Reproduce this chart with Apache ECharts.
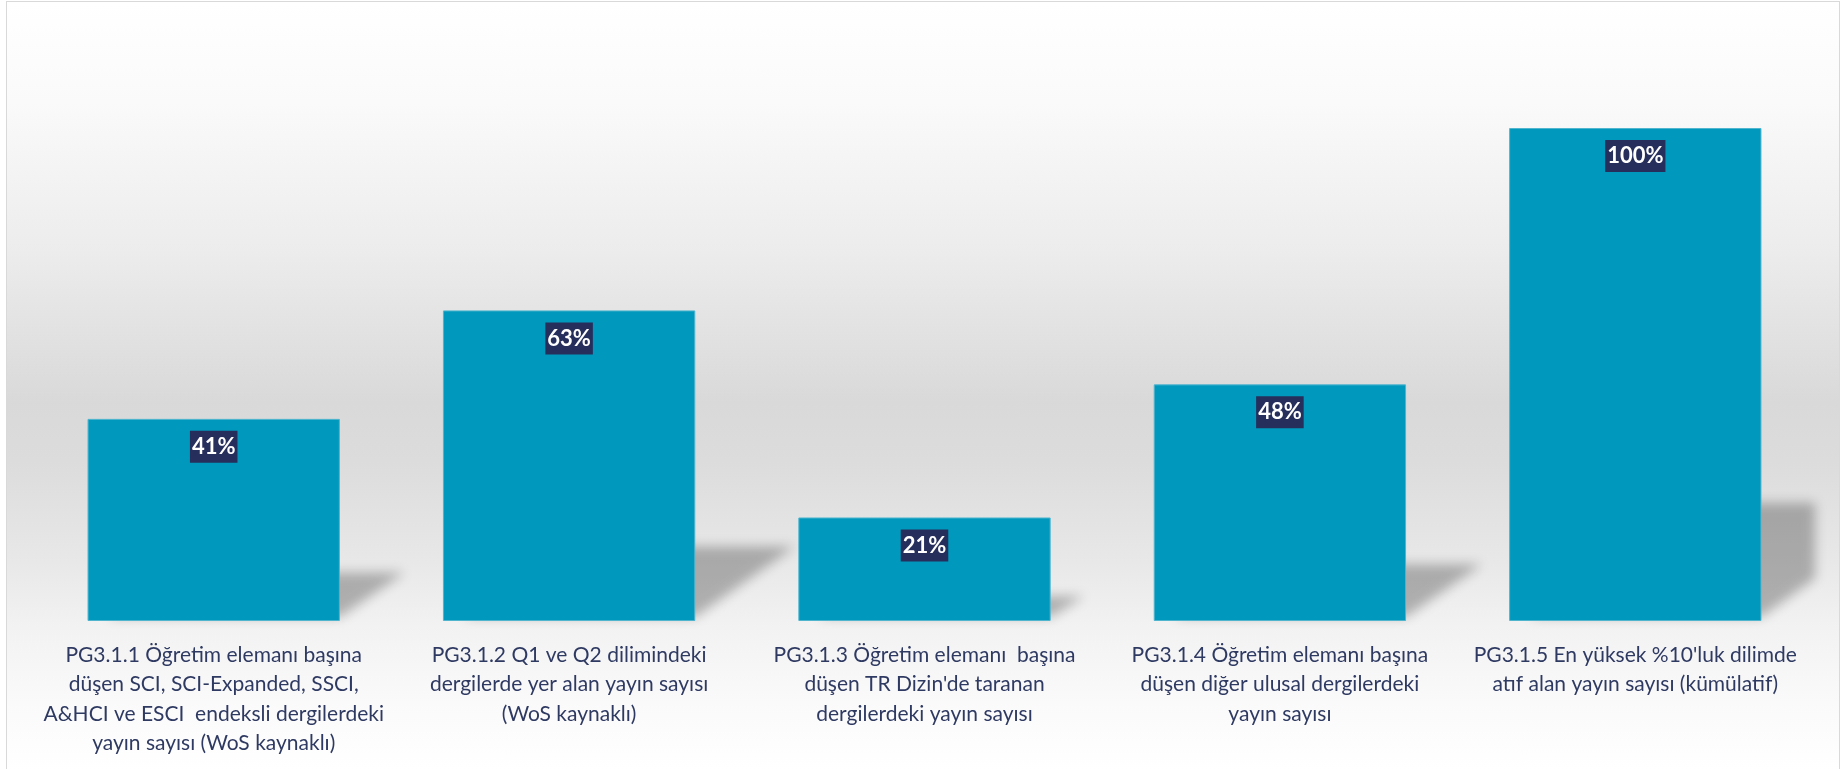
<!DOCTYPE html>
<html>
<head>
<meta charset="utf-8">
<script src="https://cdn.jsdelivr.net/npm/echarts@6/dist/echarts.min.js"></script>
<style>
  html, body { margin: 0; padding: 0; background: #ffffff; }
  #bg {
    position: absolute; left: 6px; top: 1px; width: 1834px; height: 780px;
    border: 1px solid #d9d9d9; box-sizing: border-box;
    background: linear-gradient(to bottom,
      #ffffff 0px, #fafafa 100px, #ececec 250px, #d9d9d9 400px,
      #dcdcdc 460px, #e8e8e8 560px, #f2f2f2 625px, #fafafa 700px, #ffffff 768px);
  }
  #chart { position: absolute; left: 0; top: 0; width: 1842px; height: 769px; }
</style>
</head>
<body>
<div id="bg"></div>
<div id="chart"></div>
<script>
const categories = [
  "PG3.1.1 Öğretim elemanı başına\ndüşen SCI, SCI-Expanded, SSCI,\nA&HCI ve ESCI  endeksli dergilerdeki\nyayın sayısı (WoS kaynaklı)",
  "PG3.1.2 Q1 ve Q2 dilimindeki\ndergilerde yer alan yayın sayısı\n(WoS kaynaklı)",
  "PG3.1.3 Öğretim elemanı  başına\ndüşen TR Dizin'de taranan\ndergilerdeki yayın sayısı",
  "PG3.1.4 Öğretim elemanı başına\ndüşen diğer ulusal dergilerdeki\nyayın sayısı",
  "PG3.1.5 En yüksek %10'luk dilimde\natıf alan yayın sayısı (kümülatif)"
];
const values = [41, 63, 21, 48, 100];

const BAR_RATIO = 0.71;
const SHIFT = 3000;
const chart = echarts.init(document.getElementById('chart'), null, { renderer: 'canvas' });

const option = {
  backgroundColor: 'transparent',
  animation: false,
  grid: { left: 36, right: 29, top: 128, bottom: 148, containLabel: false },
  xAxis: {
    type: 'category',
    data: categories,
    axisLine: { show: false },
    axisTick: { show: false },
    axisLabel: {
      interval: 0,
      margin: 19,
      color: '#2f3a62',
      fontFamily: 'Lato, "Open Sans", sans-serif',
      fontSize: 21,
      lineHeight: 29.5,
      align: 'center'
    }
  },
  yAxis: {
    type: 'value', min: 0, max: 100, show: false,
    splitLine: { show: false }
  },
  series: [
    {
      type: 'custom',
      z: 1,
      clip: false,
      data: values.map((v, i) => [i, v]),
      renderItem: function (params, api) {
        const i = api.value(0);
        const v = api.value(1);
        const base = api.coord([i, 0]);
        const top = api.coord([i, v]);
        const bw = api.size([1, 0])[0] * BAR_RATIO;
        const h = base[1] - top[1];
        const left = base[0] - bw / 2;
        const right = base[0] + bw / 2;
        const dx = 0.32 * h;
        const sh = 0.24 * h;
        const maxX = params.coordSys.x + params.coordSys.width + 2;
        const farX = Math.min(right + dx, maxX);
        const y0 = base[1] - 4;
        const y1 = base[1] - sh;
        let pts;
        if (right + dx > maxX) {
          const t = (maxX - right) / dx;
          pts = [[left + 20, y0], [right, y0], [maxX, y0 - (y0 - y1) * t], [maxX, y1], [left + 20 + dx, y1]];
        } else {
          pts = [[left + 20, y0], [right, y0], [farX, y1], [left + 20 + dx, y1]];
        }
        return {
          type: 'polygon',
          shape: { points: pts.map(p => [p[0] - SHIFT, p[1]]) },
          style: {
            fill: '#000000',
            shadowBlur: 12,
            shadowColor: 'rgba(0,0,0,0.27)',
            shadowOffsetX: SHIFT,
            shadowOffsetY: 0
          }
        };
      }
    },
    {
      type: 'bar',
      z: 2,
      data: values,
      barWidth: (BAR_RATIO * 100) + '%',
      itemStyle: {
        color: '#0099bd',
        borderColor: '#4fb5cf',
        borderWidth: 1
      },
      label: {
        show: true,
        position: 'insideTop',
        distance: 12,
        formatter: '{c}%',
        color: '#ffffff',
        fontFamily: 'Lato, "Open Sans", sans-serif',
        fontWeight: 'bold',
        fontSize: 22,
        lineHeight: 26,
        backgroundColor: '#262e5c',
        padding: [3, 2, 3, 2]
      }
    }
  ]
};
chart.setOption(option);
</script>
</body>
</html>
